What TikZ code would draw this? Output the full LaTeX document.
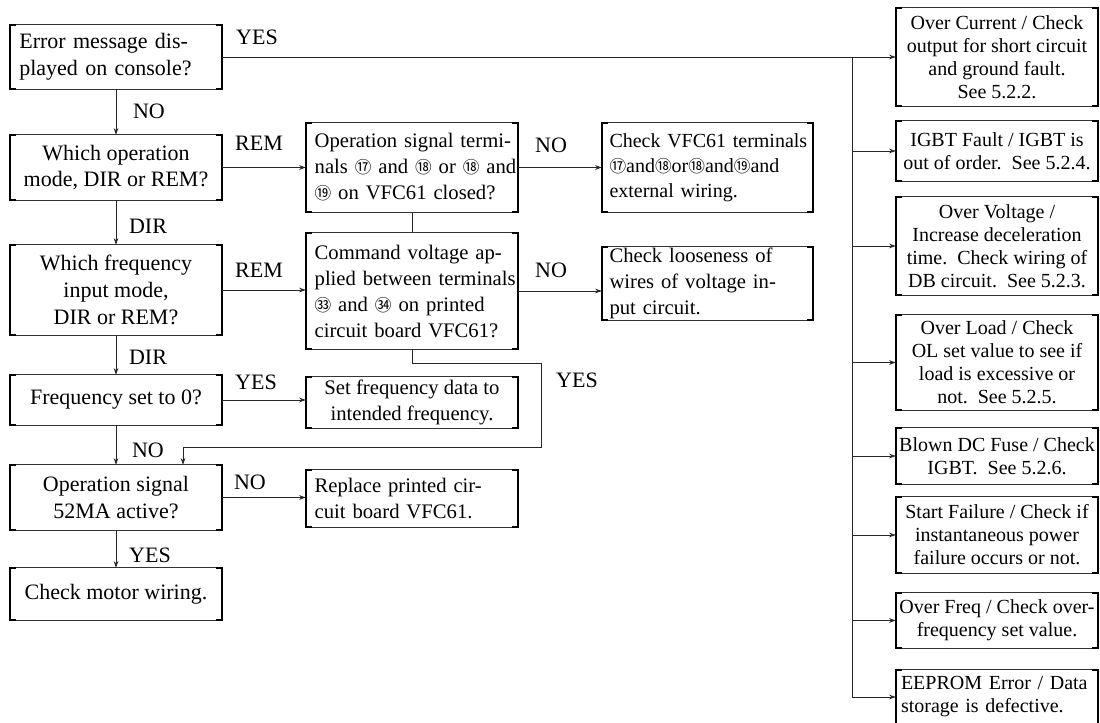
\documentclass[tikz,border=0pt]{standalone}
\usepackage{fontspec}
\setmainfont{Liberation Serif}
\newfontfamily\cjk{Noto Sans CJK SC}
\usetikzlibrary{arrows.meta}
\newcommand{\cn}[1]{{\cjk\fontsize{12.5}{12.5}\selectfont #1}}
\newcommand{\jl}[1]{\makebox[\hsize][s]{#1}}
\begin{document}
\begin{tikzpicture}[x=0.75pt,y=-0.75pt,
 bx/.style={rectangle, inner sep=0pt, align=center},
 lf/.style={font=\fontsize{16.5}{20}\selectfont},
 mf/.style={font=\fontsize{15.5}{19.5}\selectfont},
 ef/.style={font=\fontsize{15}{18.8}\selectfont},
 rf/.style={font=\fontsize{15}{17.3}\selectfont},
 lbl/.style={font=\fontsize{16.5}{20}\selectfont, inner sep=0pt},
 arr/.style={-{Stealth[length=5pt,width=3.5pt]}, line width=0.5pt, draw=black!85},
 ln/.style={line width=0.5pt, draw=black!85},
]
\useasboundingbox (0,0) rectangle (1100,723);

% left column
\node[bx,lf,minimum width=159pt,minimum height=48pt,text width=145pt,align=left] (L1) at (116,57)
 {\jl{Error message dis-}\\played on console?};
\node[bx,lf,minimum width=159pt,minimum height=48.75pt] (L2) at (116,167.5)
 {Which operation\\mode, DIR or REM?};
\node[bx,lf,minimum width=159pt,minimum height=67.5pt] (L3) at (116,290)
 {Which frequency\\input mode,\\DIR or REM?};
\node[bx,lf,minimum width=159pt,minimum height=37.5pt] (L4) at (116,400)
 {Frequency set to 0?};
\node[bx,lf,minimum width=159pt,minimum height=48.75pt] (L5) at (116,497.5)
 {Operation signal\\52MA active?};
\node[bx,lf,minimum width=159pt,minimum height=39pt] (L6) at (116,594)
 {Check motor wiring.};

% middle column
\node[bx,mf,minimum width=159pt,minimum height=66.75pt,text width=146pt,align=left] (M1) at (412,167.5)
 {\jl{Operation signal termi-}\\\jl{nals \cn{⑰} and \cn{⑱} or \cn{⑱} and}\\\cn{⑲} on VFC61 closed?};
\node[bx,mf,minimum width=159pt,minimum height=87pt,text width=146pt,align=left] (M2) at (412,291)
 {\jl{Command voltage ap-}\\\jl{plied between terminals}\\\jl{\cn{㉝} and \cn{㉞} on printed}\\circuit board VFC61?};
\node[bx,mf,minimum width=159pt,minimum height=38.25pt] (M3) at (412,402.5)
 {Set frequency data to\\intended frequency.};
\node[bx,mf,minimum width=159pt,minimum height=42.75pt,text width=146pt,align=left] (M4) at (412,498.5)
 {\jl{Replace printed cir-}\\cuit board VFC61.};

% second middle column
\node[bx,ef,minimum width=158.25pt,minimum height=66.75pt,text width=147pt,align=left] (E) at (707.5,167.5)
 {\jl{Check VFC61 terminals}\\\jl{\cn{⑰}and\cn{⑱}or\cn{⑱}and\cn{⑲}and}\\external wiring.};
\node[bx,mf,minimum width=158.25pt,minimum height=54.75pt,text width=147pt,align=left] (F) at (707.5,283.5)
 {\jl{Check looseness of}\\\jl{wires of voltage in-}\\put circuit.};

% right column
\node[bx,rf,minimum width=151.5pt,minimum height=73.5pt] (R1) at (997,57)
 {Over Current / Check\\output for short circuit\\and ground fault.\\See 5.2.2.};
\node[bx,rf,minimum width=151.5pt,minimum height=45pt] (R2) at (997,151)
 {IGBT Fault / IGBT is\\out of order.\ \ See 5.2.4.};
\node[bx,rf,minimum width=151.5pt,minimum height=73.5pt] (R3) at (997,246)
 {Over Voltage /\\Increase deceleration\\time.\ \ Check wiring of\\DB circuit.\ \ See 5.2.3.};
\node[bx,rf,minimum width=151.5pt,minimum height=71.25pt] (R4) at (997,362.5)
 {Over Load / Check\\OL set value to see if\\load is excessive or\\not.\ \ See 5.2.5.};
\node[bx,rf,minimum width=151.5pt,minimum height=42pt] (R5) at (997,456)
 {Blown DC Fuse / Check\\IGBT.\ \ See 5.2.6.};
\node[bx,rf,minimum width=151.5pt,minimum height=57pt] (R6) at (997,535)
 {Start Failure / Check if\\instantaneous power\\failure occurs or not.};
\node[bx,rf,minimum width=151.5pt,minimum height=41.25pt] (R7) at (997,620.5)
 {Over Freq / Check over-\\frequency set value.};
\node[bx,rf,minimum width=151.5pt,minimum height=40.5pt,text width=144pt,align=left] (R8) at (997,697)
 {EEPROM Error / Data\\storage is defective.};

% bracket frames
\foreach \n in {L1,L2,L3,L4,L5,L6,M1,M2,M3,M4,E,F,R1,R2,R3,R4,R5,R6,R7,R8} {
 \draw[line width=0.45pt, black!80] (\n.north west) -- (\n.north east) (\n.south west) -- (\n.south east);
 \draw[line width=1.3pt] ([xshift=5pt]\n.north west) -- (\n.north west) -- (\n.south west) -- ([xshift=5pt]\n.south west);
 \draw[line width=1.3pt] ([xshift=-5pt]\n.north east) -- (\n.north east) -- (\n.south east) -- ([xshift=-5pt]\n.south east);
}

% labels
\node[lbl] (y1) at (257,37) {YES};
\node[lbl] (n1) at (149,111) {NO};
\node[lbl] (r1) at (259,143) {REM};
\node[lbl] (d1) at (148,226) {DIR};
\node[lbl] (r2) at (259,270) {REM};
\node[lbl] (d2) at (148,357) {DIR};
\node[lbl] (y2) at (256,382) {YES};
\node[lbl] (n2) at (148,450) {NO};
\node[lbl] (n3) at (250,482) {NO};
\node[lbl] (y3) at (150,555) {YES};
\node[lbl] (n4) at (551,145) {NO};
\node[lbl] (n5) at (551,270) {NO};
\node[lbl] (y4) at (577,380) {YES};

% left column flow
\draw[arr] (L1.south) -- (L2.north);
\draw[arr] (L2.south) -- (L3.north);
\draw[arr] (L3.south) -- (L4.north);
\draw[arr] (L4.south) -- (L5.north);
\draw[arr] (L5.south) -- (L6.north);

% horizontal branches
\draw[arr] (L2.east) -- (L2.east -| M1.west);
\draw[arr] (L3.east) -- (L3.east -| M2.west);
\draw[arr] (L4.east) -- (L4.east -| M3.west);
\draw[arr] (L5.east) -- (L5.east -| M4.west);
\draw[arr] (M1.east) -- (M1.east -| E.west);
\draw[arr] (M2.east) -- (M2.east -| F.west);
\draw[ln] (M1.south) -- (M2.north);

% loop back
\coordinate (c1) at (541,363);
\coordinate (c2) at (541,447);
\coordinate (c3) at (183,447);
\draw[arr] (M2.south) |- (c1) -- (c2) -- (c3) -- (c3 |- L5.north);

% error bus
\draw[arr] (L1.east) -- (L1.east -| R1.west);
\coordinate (bt) at (852,57);
\draw[arr] (bt) -- (bt |- R8.west) -- (R8.west);
\foreach \n in {R2,R3,R4,R5,R6,R7} {
 \draw[arr] (bt |- \n.west) -- (\n.west);
}
\end{tikzpicture}
\end{document}
